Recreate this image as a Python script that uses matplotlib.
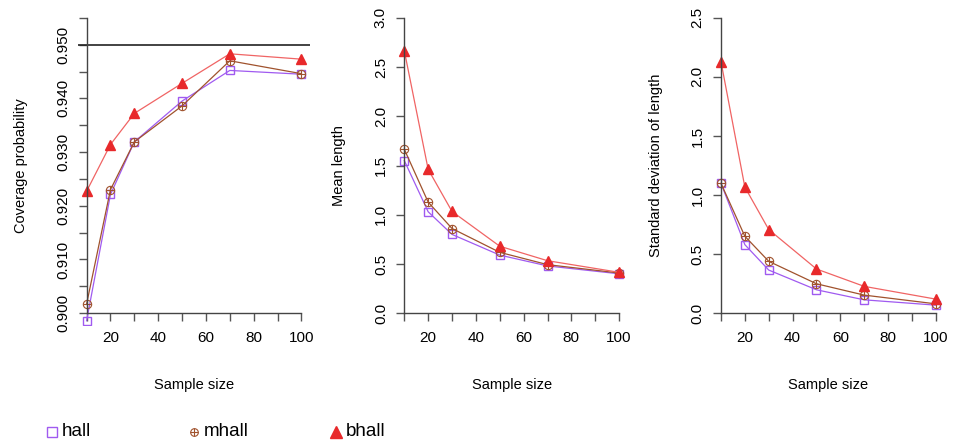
import numpy as np
import matplotlib.pyplot as plt
from matplotlib.lines import Line2D

plt.rcParams['font.family'] = ['Liberation Sans', 'DejaVu Sans']

# sample sizes used in the simulation
n = [10, 20, 30, 50, 70, 100]

# coverage probability
cov_hall = [0.8986, 0.9221, 0.9319, 0.9395, 0.9452, 0.9445]
cov_mhall = [0.9017, 0.9230, 0.9319, 0.9386, 0.9470, 0.9446]
cov_bhall = [0.9227, 0.9314, 0.9372, 0.9428, 0.9483, 0.9473]

# mean length of intervals
len_hall = [1.55, 1.03, 0.80, 0.59, 0.48, 0.40]
len_mhall = [1.665, 1.128, 0.860, 0.618, 0.493, 0.408]
len_bhall = [2.667, 1.461, 1.033, 0.680, 0.533, 0.415]

# standard deviation of length
sd_hall = [1.099, 0.580, 0.365, 0.198, 0.113, 0.068]
sd_mhall = [1.099, 0.651, 0.439, 0.249, 0.153, 0.079]
sd_bhall = [2.129, 1.067, 0.708, 0.374, 0.227, 0.119]

nominal = 0.95

methods = ['hall', 'mhall', 'bhall']
col_hall = '#A05AF0'
col_mhall = '#A0522D'
col_bhall = '#E8292B'

W, H = 955, 446
fig = plt.figure(figsize=(W / 100, H / 100), dpi=100)


def panel(left, ylim, yticks, ylabels, ylab, series):
    ax = fig.add_axes([left / W, (H - 325) / H, 232 / W, 319 / H])
    hall, mhall, bhall = series
    ax.plot(n, hall, color=col_hall, lw=0.9, marker='s', ms=6,
            mfc='none', mec=col_hall, mew=1.0)
    # circle with a cross inside for mhall
    ax.plot(n, mhall, color=col_mhall, lw=0.9, marker='o', ms=6,
            mfc='none', mec=col_mhall, mew=0.8)
    ax.plot(n, mhall, ls='none', marker='+', ms=6, mec=col_mhall, mew=0.8)
    ax.plot(n, bhall, color='#F06464', lw=0.9, marker='^', ms=6.5,
            mfc=col_bhall, mec=col_bhall)
    ax.set_xlim(6.4, 103.6)
    ax.set_ylim(*ylim)
    for s in ['top', 'right']:
        ax.spines[s].set_visible(False)
    # axes cross at the first tick of each scale
    ax.spines['left'].set_position(('data', 10))
    ax.spines['bottom'].set_position(('data', yticks[0]))
    ax.spines['left'].set_bounds(yticks[0], yticks[-1])
    ax.spines['bottom'].set_bounds(10, 100)
    for s in ['left', 'bottom']:
        ax.spines[s].set_color('#444444')
        ax.spines[s].set_linewidth(1.0)
    ax.set_xticks(np.arange(10, 101, 10))
    ax.set_xticklabels(['' if v % 20 else str(v) for v in range(10, 101, 10)])
    ax.set_yticks(yticks)
    ax.set_yticklabels(ylabels, rotation=90, va='center')
    ax.tick_params(length=5.8, width=1.0, color='#555555', labelsize=11)
    ax.tick_params(axis='x', pad=7)
    ax.tick_params(axis='y', pad=6)
    ax.set_xlabel('Sample size', fontsize=10.5, labelpad=24)
    ax.set_ylabel(ylab, fontsize=10.5, labelpad=20)
    ax.patch.set_alpha(0)
    return ax


cov_ticks = np.round(np.arange(0.900, 0.9551, 0.005), 3)
cov_labels = ['%.3f' % t if round(t * 1000) % 10 == 0 else '' for t in cov_ticks]
ax1 = panel(78, (0.8978, 0.9572), cov_ticks, cov_labels,
            'Coverage probability', (cov_hall, cov_mhall, cov_bhall))
ax1.axhline(nominal, color='#222222', lw=1.2)

len_ticks = np.arange(0, 3.01, 0.5)
panel(395.7, (-0.12, 3.12), len_ticks, ['%.1f' % t for t in len_ticks],
      'Mean length', (len_hall, len_mhall, len_bhall))

sd_ticks = np.arange(0, 2.51, 0.5)
panel(712.4, (-0.1, 2.6), sd_ticks, ['%.1f' % t for t in sd_ticks],
      'Standard deviation of length', (sd_hall, sd_mhall, sd_bhall))

# legend along the bottom edge
key_styles = [
    [dict(marker='s', ms=6.5, mfc='none', mec=col_hall, mew=1.0)],
    [dict(marker='o', ms=5.5, mfc='none', mec=col_mhall, mew=0.8),
     dict(marker='+', ms=5.5, mec=col_mhall, mew=0.8)],
    [dict(marker='^', ms=8, mfc=col_bhall, mec=col_bhall)],
]
key_x = [52, 194, 336]
key_y = 432
for x, name, styles in zip(key_x, methods, key_styles):
    for st in styles:
        fig.add_artist(Line2D([x / W], [(H - key_y) / H], ls='none',
                              transform=fig.transFigure, **st))
    fig.text((x + 10) / W, (H - key_y) / H, name, fontsize=13.5,
             va='center', ha='left')

fig.savefig('out.png', dpi=100)
